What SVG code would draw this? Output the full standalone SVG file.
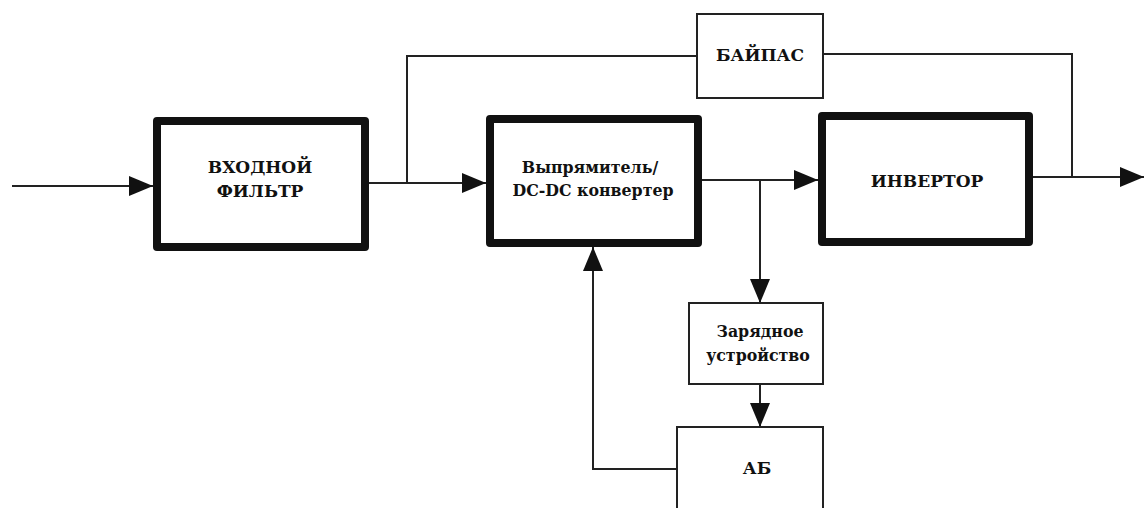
<svg xmlns="http://www.w3.org/2000/svg" width="1144" height="508" viewBox="0 0 1144 508">
<defs>
<marker id="ah" markerWidth="24" markerHeight="20" refX="24" refY="10" orient="auto" markerUnits="userSpaceOnUse">
<path d="M0,0 L24,10 L0,20 Z" fill="#111"/>
</marker>
<style>
.thick{fill:#fff;stroke:#111;stroke-width:8;stroke-linejoin:round}
.thin{fill:#fff;stroke:#222;stroke-width:2}
.ln{fill:none;stroke:#222;stroke-width:2}
.t{font-family:'DejaVu Serif',serif;font-weight:bold;font-size:17px;fill:#111;text-anchor:middle}
.s{font-size:15.8px}
</style>
</defs>
<rect width="1144" height="508" fill="#fff"/>
<g id="connectors">
<path class="ln" d="M12,186 H153" marker-end="url(#ah)"/>
<path class="ln" d="M369,183 H486" marker-end="url(#ah)"/>
<path class="ln" d="M407,183 V56 H697"/>
<path class="ln" d="M702,180 H818" marker-end="url(#ah)"/>
<path class="ln" d="M760,180 V303" marker-end="url(#ah)"/>
<path class="ln" d="M760,384 V427" marker-end="url(#ah)"/>
<path class="ln" d="M677,469 H593 V247" marker-end="url(#ah)"/>
<path class="ln" d="M823,54 H1072 V177"/>
<path class="ln" d="M1033,177 H1144" marker-end="url(#ah)"/>
</g>
<g id="input_filter">
<rect class="thick" x="157" y="121" width="208" height="126"/>
<text class="t" x="260" y="173">ВХОДНОЙ</text>
<text class="t" x="260" y="197">ФИЛЬТР</text>
</g>
<g id="rectifier">
<rect class="thick" x="490" y="119" width="208" height="124"/>
<text class="t s" x="590" y="173">Выпрямитель/</text>
<text class="t s" x="593" y="196">DC-DC конвертер</text>
</g>
<g id="inverter">
<rect class="thick" x="822" y="116" width="207" height="126"/>
<text class="t" x="927" y="187">ИНВЕРТОР</text>
</g>
<g id="bypass">
<rect class="thin" x="697" y="14" width="126" height="84"/>
<text class="t" x="760" y="61">БАЙПАС</text>
</g>
<g id="charger">
<rect class="thin" x="689" y="303" width="134" height="81"/>
<text class="t s" x="760" y="337">Зарядное</text>
<text class="t s" x="758" y="361">устройство</text>
</g>
<g id="battery">
<rect class="thin" x="677" y="427" width="146" height="85"/>
<text class="t" x="757" y="474">АБ</text>
</g>
</svg>
